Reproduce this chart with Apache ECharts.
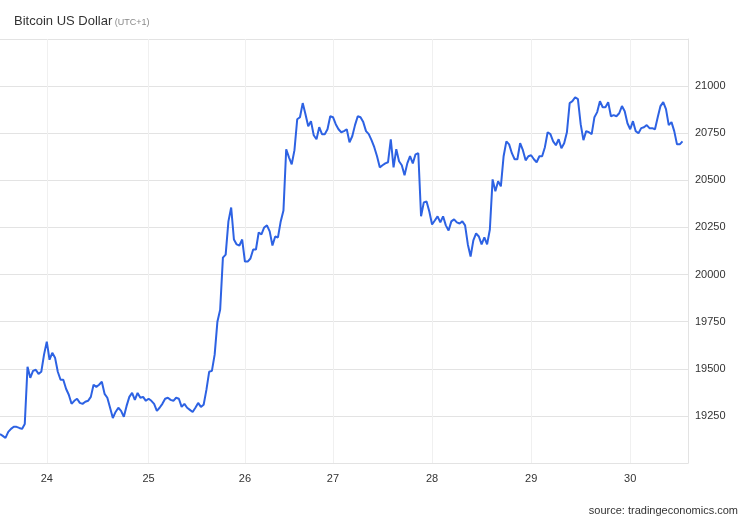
<!DOCTYPE html>
<html>
<head>
<meta charset="utf-8">
<script src="https://cdn.jsdelivr.net/npm/echarts@6/dist/echarts.min.js"></script>
<style>
  html, body { margin: 0; padding: 0; background: #fff; }
  #chart { width: 750px; height: 520px; }
</style>
</head>
<body>
<div id="chart"></div>
<script>
// day labels and the sample index where each day starts
var dayLabels = ['24', '25', '26', '27', '28', '29', '30'];
var dayStarts = [17, 54, 89, 121, 157, 193, 229];
var slotCount = 251;

var yTicks = [19250, 19500, 19750, 20000, 20250, 20500, 20750, 21000];

// BTC/USD price, roughly every 40 minutes
var prices = [
  19154, 19144, 19133, 19165, 19181, 19192, 19192, 19186, 19181, 19207,
  19511, 19452, 19489, 19495, 19473, 19484, 19575, 19644, 19548, 19585,
  19559, 19484, 19442, 19442, 19394, 19362, 19314, 19330, 19341, 19319,
  19314, 19325, 19330, 19351, 19415, 19404, 19415, 19431, 19367, 19346,
  19293, 19239, 19271, 19293, 19277, 19245, 19303, 19351, 19372, 19335,
  19372, 19346, 19351, 19330, 19341, 19330, 19314, 19277, 19293, 19314,
  19341, 19346, 19335, 19330, 19346, 19341, 19298, 19314, 19293, 19282,
  19271, 19293, 19319, 19298, 19309, 19388, 19484, 19489, 19575, 19750,
  19814, 20090, 20106, 20282, 20356, 20186, 20160, 20154, 20186, 20069,
  20069, 20085, 20133, 20133, 20223, 20213, 20250, 20261, 20229, 20154,
  20202, 20197, 20282, 20340, 20665, 20622, 20585, 20660, 20824, 20835,
  20910, 20851, 20787, 20814, 20739, 20718, 20782, 20745, 20745, 20771,
  20840, 20835, 20798, 20771, 20755, 20761, 20771, 20702, 20734, 20793,
  20840, 20835, 20809, 20761, 20745, 20713, 20676, 20628, 20569, 20580,
  20590, 20596, 20718, 20569, 20665, 20601, 20580, 20527, 20590, 20628,
  20590, 20638, 20644, 20309, 20383, 20388, 20335, 20266, 20287, 20309,
  20277, 20309, 20261, 20234, 20282, 20293, 20277, 20271, 20282, 20261,
  20160, 20096, 20181, 20218, 20202, 20160, 20197, 20160, 20239, 20505,
  20442, 20495, 20468, 20628, 20707, 20691, 20644, 20612, 20612, 20697,
  20660, 20606, 20628, 20633, 20612, 20596, 20628, 20628, 20676, 20755,
  20745, 20707, 20686, 20718, 20670, 20697, 20755, 20910, 20920, 20941,
  20931, 20798, 20713, 20761, 20755, 20745, 20835, 20862, 20920, 20888,
  20888, 20915, 20840, 20846, 20840, 20856, 20894, 20867, 20803, 20771,
  20814, 20761, 20750, 20777, 20782, 20793, 20777, 20777, 20771, 20835,
  20894, 20915, 20878, 20793, 20809, 20761, 20691, 20691, 20707
];

var slots = [];
for (var i = 0; i < slotCount; i++) {
  var d = dayStarts.indexOf(i);
  slots.push(d >= 0 ? dayLabels[d] : 's' + i);
}
function isDayStart(index) {
  return dayStarts.indexOf(index) >= 0;
}

var font = '"Liberation Sans", Arial, sans-serif';
var chart = echarts.init(document.getElementById('chart'), null, { renderer: 'canvas' });

chart.setOption({
  animation: false,
  backgroundColor: '#fff',
  title: {
    text: '{main|Bitcoin US Dollar}{tz| (UTC+1)}',
    left: 14,
    top: 15,
    padding: 0,
    textStyle: {
      fontWeight: 'normal',
      rich: {
        main: { fontFamily: font, fontSize: 13, fontWeight: 'normal', color: '#333' },
        tz: { fontFamily: font, fontSize: 9, fontWeight: 'normal', color: '#888', padding: [2, 0, 0, 0] }
      }
    }
  },
  graphic: [{
    type: 'text',
    right: 12,
    bottom: 4,
    style: {
      text: 'source: tradingeconomics.com',
      font: '11px ' + font,
      fill: '#333'
    }
  }],
  grid: { left: 0, right: 62, top: 39, bottom: 57 },
  xAxis: {
    type: 'category',
    data: slots,
    boundaryGap: false,
    axisLine: { show: true, lineStyle: { color: '#e3e3e3' } },
    axisTick: { show: false },
    axisLabel: {
      interval: isDayStart,
      margin: 10,
      color: '#333',
      fontSize: 11,
      fontFamily: font
    },
    splitLine: {
      show: true,
      interval: isDayStart,
      lineStyle: { color: '#f0f0f0' }
    }
  },
  yAxis: {
    type: 'value',
    position: 'right',
    min: 19000,
    max: 21250,
    interval: 250,
    axisLine: { show: true, lineStyle: { color: '#e3e3e3' } },
    axisTick: { show: false },
    axisLabel: {
      margin: 7,
      color: '#333',
      fontSize: 11,
      fontFamily: font,
      formatter: function (v) {
        return yTicks.indexOf(v) >= 0 ? String(v) : '';
      }
    },
    splitLine: { lineStyle: { color: '#e3e3e3' } }
  },
  series: [{
    type: 'line',
    data: prices,
    showSymbol: false,
    lineStyle: { color: '#2d62e3', width: 2 },
    itemStyle: { color: '#2d62e3' }
  }]
});
</script>
</body>
</html>
